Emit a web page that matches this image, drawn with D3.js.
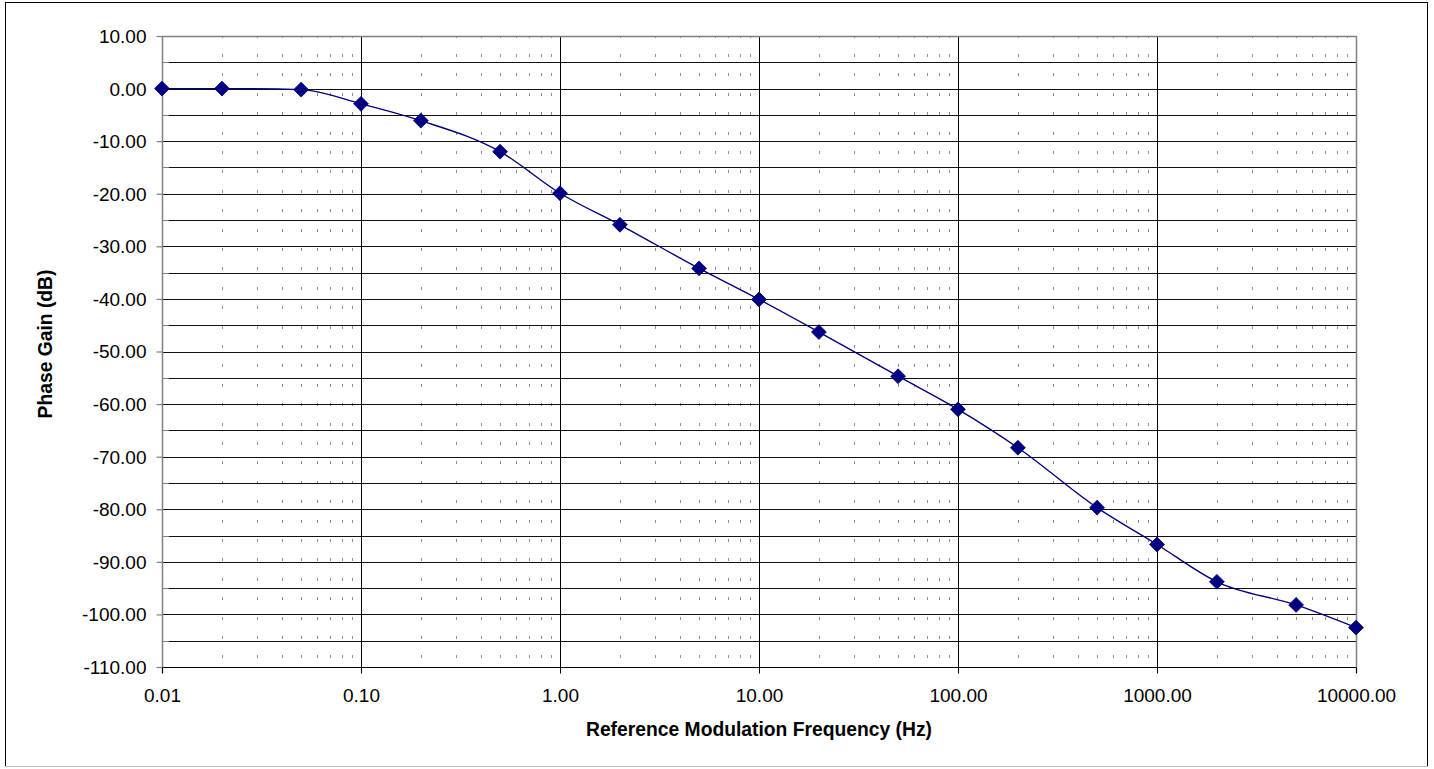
<!DOCTYPE html>
<html>
<head>
<meta charset="utf-8">
<script src="https://cdn.jsdelivr.net/npm/d3@7"></script>
<style>
  html, body { margin: 0; padding: 0; background: #fff; }
  svg { display: block; font-family: Arial, "Liberation Sans", sans-serif; }
</style>
</head>
<body>
<svg id="chart" width="1434" height="769"></svg>
<script>
// ---- data ----
const frequencies = [0.01, 0.02, 0.05, 0.1, 0.2, 0.5, 1, 2, 5, 10, 20, 50, 100, 200, 500, 1000, 2000, 5000, 10000];
const phaseGain   = [0, 0, -0.2, -2.9, -6.1, -12.0, -19.9, -25.9, -34.2, -40.1, -46.3, -54.7, -61.0, -68.3, -79.7, -86.7, -93.8, -98.2, -102.5];
const xTickValues = [0.01, 0.1, 1, 10, 100, 1000, 10000];
const yTickValues = [10, 0, -10, -20, -30, -40, -50, -60, -70, -80, -90, -100, -110];
const yMinorValues = [5, -5, -15, -25, -35, -45, -55, -65, -75, -85, -95, -105];
const xMinorMultipliers = [2, 3, 4, 5, 6, 7, 8, 9];
const xTitle = "Reference Modulation Frequency (Hz)";
const yTitle = "Phase Gain (dB)";

// ---- layout ----
const svg = d3.select("#chart");
const plot = { left: 162, right: 1356, top: 36, bottom: 667 };

const x = d3.scaleLog().domain([0.01, 10000]).range([plot.left, plot.right]);
const y = d3.scaleLinear().domain([-110, 10]).range([plot.bottom, plot.top]);
const px = v => Math.round(v) + 0.5;

// outer frame
svg.append("rect").attr("x", 5.5).attr("y", 2.5).attr("width", 1422).attr("height", 764)
  .attr("fill", "#fff").attr("stroke", "#000").attr("stroke-width", 1);
svg.append("line").attr("x1", 5).attr("x2", 1428).attr("y1", 766.5).attr("y2", 766.5)
  .attr("stroke", "#bdbdbd").attr("stroke-width", 1);

const g = svg.append("g");

// minor vertical gridlines (dashed)
const minorX = [];
xTickValues.slice(0, -1).forEach(d => xMinorMultipliers.forEach(m => minorX.push(d * m)));
g.append("g").selectAll("line").data(minorX).join("line")
  .attr("x1", d => px(x(d))).attr("x2", d => px(x(d)))
  .attr("y1", plot.top).attr("y2", plot.bottom)
  .attr("stroke", "#8c8c8c").attr("stroke-width", 1)
  .attr("stroke-dasharray", "3,16.4").attr("stroke-dashoffset", 1.5)
  .attr("shape-rendering", "crispEdges");

// horizontal gridlines (major & minor)
g.append("g").selectAll("line").data(yTickValues.slice(1, -1).concat(yMinorValues)).join("line")
  .attr("x1", plot.left).attr("x2", plot.right)
  .attr("y1", d => px(y(d))).attr("y2", d => px(y(d)))
  .attr("stroke", "#111").attr("stroke-width", 1).attr("shape-rendering", "crispEdges");

// major vertical gridlines
g.append("g").selectAll("line").data(xTickValues.slice(1, -1)).join("line")
  .attr("x1", d => px(x(d))).attr("x2", d => px(x(d)))
  .attr("y1", plot.top).attr("y2", plot.bottom + 6)
  .attr("stroke", "#000").attr("stroke-width", 1).attr("shape-rendering", "crispEdges");

// plot frame: top & right gray, bottom black
g.append("line").attr("x1", plot.left).attr("x2", plot.right + 0.5)
  .attr("y1", px(plot.top)).attr("y2", px(plot.top))
  .attr("stroke", "#808080").attr("stroke-width", 1.5);
g.append("line").attr("x1", px(plot.right)).attr("x2", px(plot.right))
  .attr("y1", plot.top).attr("y2", plot.bottom + 6)
  .attr("stroke", "#808080").attr("stroke-width", 1.5);
g.append("line").attr("x1", plot.left).attr("x2", plot.right)
  .attr("y1", px(plot.bottom)).attr("y2", px(plot.bottom))
  .attr("stroke", "#000").attr("stroke-width", 1).attr("shape-rendering", "crispEdges");

// minor y ticks (inside)
g.append("g").selectAll("line").data(yMinorValues).join("line")
  .attr("x1", plot.left).attr("x2", plot.left + 7)
  .attr("y1", d => px(y(d))).attr("y2", d => px(y(d)))
  .attr("stroke", "#808080").attr("stroke-width", 1);

// y axis
const yAxis = g.append("g").attr("transform", `translate(${px(plot.left)},0)`)
  .call(d3.axisLeft(y).tickValues(yTickValues).tickFormat(d => d.toFixed(2))
    .tickSize(6).tickPadding(10).tickSizeOuter(0));
yAxis.select(".domain").attr("stroke", "#808080").attr("stroke-width", 1.5)
  .attr("d", `M0,${plot.top}V${plot.bottom + 6}`);
yAxis.selectAll(".tick line").attr("stroke", "#808080").attr("stroke-width", 1.2);
yAxis.selectAll(".tick text").attr("font-size", 19).attr("fill", "#000")
  .attr("font-family", "Arial, 'Liberation Sans', sans-serif")
  .attr("dy", "0.34em");

// x axis
const xAxis = g.append("g").attr("transform", `translate(0,${px(plot.bottom)})`)
  .call(d3.axisBottom(x).tickValues(xTickValues).tickFormat(d => d.toFixed(2))
    .tickSize(6).tickPadding(15).tickSizeOuter(0));
xAxis.select(".domain").remove();
xAxis.selectAll(".tick line").attr("stroke", "#000").attr("stroke-width", 1);
xAxis.selectAll(".tick text").attr("font-size", 19).attr("fill", "#000")
  .attr("font-family", "Arial, 'Liberation Sans', sans-serif");

// series line (smoothed)
const line = d3.line()
  .x((d, i) => x(frequencies[i]))
  .y(d => y(d))
  .curve(d3.curveMonotoneX);
g.append("path").datum(phaseGain)
  .attr("d", line).attr("fill", "none")
  .attr("stroke", "#000080").attr("stroke-width", 1.4);

// markers (diamonds)
const diamond = d3.symbol().type(d3.symbolSquare).size(110);
g.append("g").selectAll("path").data(phaseGain).join("path")
  .attr("d", diamond)
  .attr("transform", (d, i) => `translate(${x(frequencies[i])},${y(d)}) rotate(45)`)
  .attr("fill", "#000080").attr("stroke", "#000080").attr("stroke-width", 0.8);

// axis titles
svg.append("text").attr("x", 759).attr("y", 736).attr("text-anchor", "middle")
  .attr("font-size", 19.3).attr("font-weight", "bold").attr("fill", "#000")
  .text(xTitle);
svg.append("text").attr("transform", "translate(52,344) rotate(-90)")
  .attr("text-anchor", "middle")
  .attr("font-size", 19.3).attr("font-weight", "bold").attr("fill", "#000")
  .text(yTitle);
</script>
</body>
</html>
